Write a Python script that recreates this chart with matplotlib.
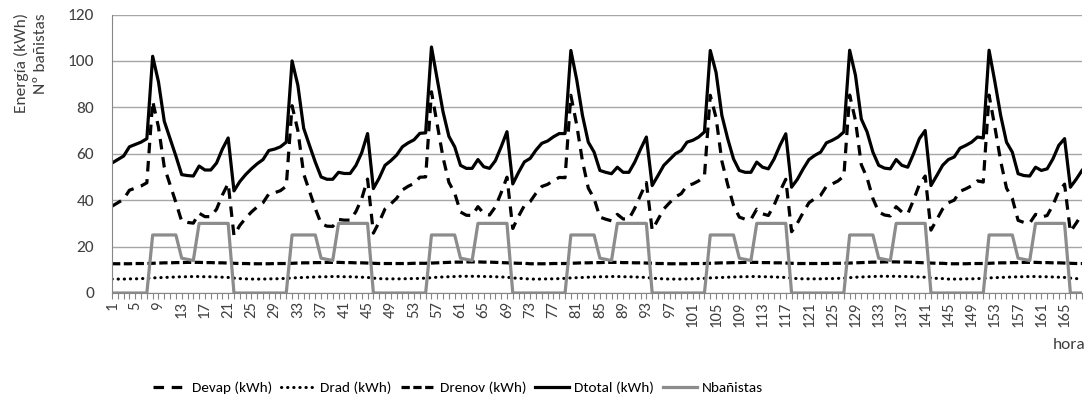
import numpy as np
import matplotlib.pyplot as plt
from matplotlib import font_manager

# fuentes disponibles
nombres = {f.name for f in font_manager.fontManager.ttflist}
fuente = 'Carlito' if 'Carlito' in nombres else 'Lato'
fuente_ley = 'Liberation Sans Narrow' if 'Liberation Sans Narrow' in nombres else fuente

horas = np.arange(1, 169)

dtotal = [
    56.0, 57.5, 59.0, 63.0, 64.0, 65.0, 66.5, 102.0, 91.0, 74.0, 66.5, 59.0, 51.0, 50.6, 50.4, 54.7, 53.0, 53.0, 56.0, 62.0, 66.8, 44.0, 48.0, 51.0,
    53.5, 55.7, 57.5, 61.4, 62.0, 63.0, 65.0, 100.0, 89.5, 71.0, 63.6, 56.4, 50.0, 49.0, 49.0, 52.0, 51.5, 51.5, 55.0, 60.5, 68.7, 45.0, 49.5, 55.0,
    57.0, 59.4, 63.0, 64.7, 66.0, 68.8, 69.0, 106.0, 92.0, 78.0, 67.5, 63.0, 55.0, 53.7, 53.7, 57.5, 54.4, 53.7, 57.0, 63.0, 69.5, 47.0, 52.0, 56.5,
    58.0, 61.6, 64.5, 65.5, 67.3, 68.7, 68.7, 104.5, 92.0, 76.5, 65.0, 60.7, 52.8, 52.0, 51.4, 54.2, 52.0, 52.0, 56.4, 62.0, 67.2, 46.3, 50.6, 55.0,
    57.5, 60.0, 61.4, 65.0, 65.8, 67.2, 69.4, 104.5, 95.0, 76.5, 66.5, 57.8, 52.8, 52.0, 52.0, 56.4, 54.2, 53.5, 57.8, 63.6, 68.6, 45.6, 49.0, 53.5,
    57.5, 59.3, 60.7, 64.7, 65.8, 67.2, 69.4, 104.6, 93.8, 75.0, 69.4, 60.7, 55.0, 53.8, 53.5, 57.5, 55.0, 54.2, 60.0, 66.5, 70.0, 46.3, 50.6, 55.0,
    57.5, 58.6, 62.4, 63.6, 65.0, 67.2, 66.8, 104.6, 91.0, 76.5, 65.0, 60.7, 51.4, 50.6, 50.4, 54.2, 52.8, 53.5, 57.8, 63.6, 66.5, 45.6, 49.0, 52.8,
]

devap = [
    37.4, 38.9, 40.4, 44.3, 45.2, 46.1, 47.5, 82.7, 71.5, 54.3, 46.7, 39.0, 30.9, 30.4, 30.1, 34.4, 32.9, 32.9, 36.1, 42.2, 47.2, 24.8, 29.1, 32.2,
    34.9, 37.1, 38.9, 42.7, 43.2, 44.1, 46.0, 80.7, 70.0, 51.3, 43.8, 36.4, 29.9, 28.8, 28.7, 31.7, 31.4, 31.4, 35.1, 40.7, 49.1, 25.8, 30.6, 36.2,
    38.4, 40.8, 44.4, 46.0, 47.2, 49.9, 50.0, 86.7, 72.5, 58.3, 47.7, 43.0, 34.9, 33.5, 33.4, 37.2, 34.3, 33.6, 37.1, 43.2, 49.9, 27.8, 33.1, 37.7,
    39.4, 43.0, 45.9, 46.8, 48.5, 49.8, 49.7, 85.2, 72.5, 56.8, 45.2, 40.7, 32.7, 31.8, 31.1, 33.9, 31.9, 31.9, 36.5, 42.2, 47.6, 27.1, 31.7, 36.2,
    38.9, 41.4, 42.8, 46.3, 47.0, 48.3, 50.4, 85.2, 75.5, 56.8, 46.7, 37.8, 32.7, 31.8, 31.7, 36.1, 34.1, 33.4, 37.9, 43.8, 49.0, 26.4, 30.1, 34.7,
    38.9, 40.7, 42.1, 46.0, 47.0, 48.3, 50.4, 85.3, 74.3, 55.3, 49.6, 40.7, 34.9, 33.6, 33.2, 37.2, 34.9, 34.1, 40.1, 46.7, 50.4, 27.1, 31.7, 36.2,
    38.9, 40.0, 43.8, 44.9, 46.2, 48.3, 47.8, 85.3, 71.5, 56.8, 45.2, 40.7, 31.3, 30.4, 30.1, 33.9, 32.7, 33.4, 37.9, 43.8, 46.9, 26.4, 30.1, 34.0,
]

drad = [
    6.0, 6.0, 6.0, 6.1, 6.1, 6.2, 6.3, 6.5, 6.6, 6.7, 6.8, 6.9, 7.0, 7.0, 7.1, 7.1, 7.0, 7.0, 6.9, 6.8, 6.7, 6.4, 6.2, 6.1,
    6.0, 6.0, 6.0, 6.1, 6.1, 6.2, 6.3, 6.5, 6.6, 6.7, 6.8, 6.9, 7.0, 7.0, 7.1, 7.1, 7.0, 7.0, 6.9, 6.8, 6.7, 6.4, 6.2, 6.1,
    6.1, 6.1, 6.1, 6.2, 6.2, 6.3, 6.4, 6.6, 6.8, 6.9, 7.0, 7.1, 7.2, 7.2, 7.2, 7.2, 7.1, 7.1, 7.0, 6.9, 6.8, 6.5, 6.3, 6.2,
    6.0, 6.0, 6.0, 6.1, 6.1, 6.2, 6.3, 6.5, 6.6, 6.7, 6.8, 6.9, 7.0, 7.0, 7.1, 7.1, 7.0, 7.0, 6.9, 6.8, 6.7, 6.4, 6.2, 6.1,
    6.0, 6.0, 6.0, 6.1, 6.1, 6.2, 6.3, 6.5, 6.6, 6.7, 6.8, 6.9, 7.0, 7.0, 7.1, 7.1, 7.0, 7.0, 6.9, 6.8, 6.7, 6.4, 6.2, 6.1,
    6.1, 6.1, 6.1, 6.2, 6.2, 6.3, 6.4, 6.6, 6.8, 6.9, 7.0, 7.1, 7.2, 7.2, 7.2, 7.2, 7.1, 7.1, 7.0, 6.9, 6.8, 6.5, 6.3, 6.2,
    6.0, 6.0, 6.0, 6.1, 6.1, 6.2, 6.3, 6.5, 6.6, 6.7, 6.8, 6.9, 7.0, 7.0, 7.1, 7.1, 7.0, 7.0, 6.9, 6.8, 6.7, 6.4, 6.2, 6.1,
]

drenov = [
    12.6, 12.6, 12.6, 12.6, 12.7, 12.7, 12.7, 12.8, 12.9, 13.0, 13.0, 13.1, 13.1, 13.2, 13.2, 13.2, 13.1, 13.1, 13.0, 13.0, 12.9, 12.8, 12.7, 12.7,
    12.6, 12.6, 12.6, 12.6, 12.7, 12.7, 12.7, 12.8, 12.9, 13.0, 13.0, 13.1, 13.1, 13.2, 13.2, 13.2, 13.1, 13.1, 13.0, 13.0, 12.9, 12.8, 12.7, 12.7,
    12.7, 12.7, 12.7, 12.7, 12.8, 12.8, 12.8, 12.9, 13.0, 13.1, 13.2, 13.3, 13.3, 13.4, 13.4, 13.4, 13.3, 13.3, 13.2, 13.1, 13.0, 12.9, 12.8, 12.8,
    12.6, 12.6, 12.6, 12.6, 12.7, 12.7, 12.7, 12.8, 12.9, 13.0, 13.0, 13.1, 13.1, 13.2, 13.2, 13.2, 13.1, 13.1, 13.0, 13.0, 12.9, 12.8, 12.7, 12.7,
    12.6, 12.6, 12.6, 12.6, 12.7, 12.7, 12.7, 12.8, 12.9, 13.0, 13.0, 13.1, 13.1, 13.2, 13.2, 13.2, 13.1, 13.1, 13.0, 13.0, 12.9, 12.8, 12.7, 12.7,
    12.7, 12.7, 12.7, 12.7, 12.8, 12.8, 12.8, 12.9, 13.0, 13.1, 13.2, 13.3, 13.3, 13.4, 13.4, 13.4, 13.3, 13.3, 13.2, 13.1, 13.0, 12.9, 12.8, 12.8,
    12.6, 12.6, 12.6, 12.6, 12.7, 12.7, 12.7, 12.8, 12.9, 13.0, 13.0, 13.1, 13.1, 13.2, 13.2, 13.2, 13.1, 13.1, 13.0, 13.0, 12.9, 12.8, 12.7, 12.7,
]

nbanistas = [
    0, 0, 0, 0, 0, 0, 0, 25, 25, 25, 25, 25, 15, 14.5, 14, 30, 30, 30, 30, 30, 30, 0, 0, 0,
    0, 0, 0, 0, 0, 0, 0, 25, 25, 25, 25, 25, 15, 14.5, 14, 30, 30, 30, 30, 30, 30, 0, 0, 0,
    0, 0, 0, 0, 0, 0, 0, 25, 25, 25, 25, 25, 15, 14.5, 14, 30, 30, 30, 30, 30, 30, 0, 0, 0,
    0, 0, 0, 0, 0, 0, 0, 25, 25, 25, 25, 25, 15, 14.5, 14, 30, 30, 30, 30, 30, 30, 0, 0, 0,
    0, 0, 0, 0, 0, 0, 0, 25, 25, 25, 25, 25, 15, 14.5, 14, 30, 30, 30, 30, 30, 30, 0, 0, 0,
    0, 0, 0, 0, 0, 0, 0, 25, 25, 25, 25, 25, 15, 14.5, 14, 30, 30, 30, 30, 30, 30, 0, 0, 0,
    0, 0, 0, 0, 0, 0, 0, 25, 25, 25, 25, 25, 15, 14.5, 14, 30, 30, 30, 30, 30, 30, 0, 0, 0,
]

etiquetas_x = [str(h) for h in range(1, 168, 4)]

fig = plt.figure(figsize=(10.91, 4.08), dpi=100)
ax = fig.add_axes([112 / 1091, 1 - 293 / 408, 970 / 1091, 278.5 / 408])

ax.plot(horas, devap, color='black', lw=2.3, ls=(0, (3.3, 2.4)), label='Devap (kWh)')
ax.plot(horas, drad, color='black', lw=2.2, ls=(0, (0.1, 1.9)), dash_capstyle='round', label='Drad (kWh)')
ax.plot(horas, drenov, color='black', lw=2.3, ls=(0, (2.6, 1.1)), label='Drenov (kWh)')
ax.plot(horas, dtotal, color='black', lw=2.3, label='Dtotal (kWh)')
ax.plot(horas, nbanistas, color='#8c8c8c', lw=2.3, label='Nbañistas')

ax.set_xlim(1, 168)
ax.set_ylim(0, 120)
ax.set_yticks(range(0, 121, 20))
ax.set_xticks(range(1, 168, 4))
ax.set_xticklabels(etiquetas_x, rotation=90, fontsize=12, family=fuente, color='#404040')
ax.set_xticks(horas, minor=True)
ax.tick_params(axis='x', which='both', length=4, width=0.8, color='#868686', pad=2)
ax.tick_params(axis='y', length=0, pad=13, labelsize=12.5, labelcolor='#404040')
for t in ax.get_yticklabels():
    t.set_family(fuente)

ax.grid(axis='y', color='#a6a6a6', lw=1)
ax.set_axisbelow(True)
for s in ['top', 'right']:
    ax.spines[s].set_visible(False)
ax.spines['left'].set_color('#868686')
ax.spines['bottom'].set_color('#868686')

fig.text(31 / 1091, 1 - 13 / 408, 'Energía (kWh)\nNº bañistas', rotation=90, ha='center', va='top',
         multialignment='right', fontsize=12.5, family=fuente, color='#404040', linespacing=1.45)
fig.text(1086 / 1091, 1 - 345 / 408, 'hora', ha='right', va='center', fontsize=12.5, family=fuente, color='#404040')

fig.legend(loc='center', bbox_to_anchor=(458 / 1091, 1 - 388 / 408), ncol=5, frameon=False,
           handlelength=2.2, handletextpad=0.35, columnspacing=0.6,
           prop={'family': fuente_ley, 'size': 11})

fig.savefig('out.png', dpi=100)
